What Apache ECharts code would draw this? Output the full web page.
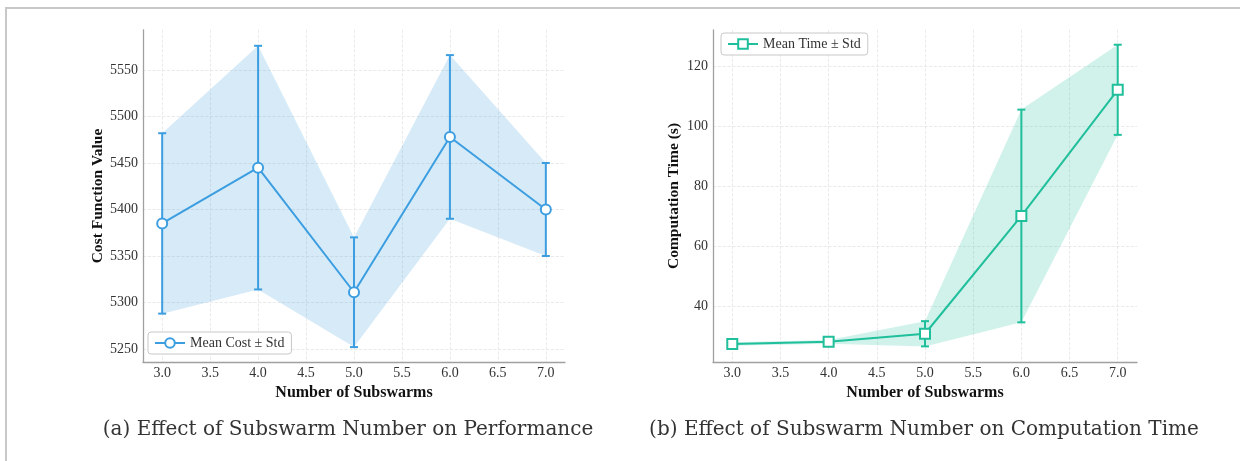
<!DOCTYPE html>
<html>
<head>
<meta charset="utf-8">
<script src="https://cdn.jsdelivr.net/npm/echarts@6/dist/echarts.min.js"></script>
<style>
html, body { margin: 0; padding: 0; background: #fff; }
#chart { width: 1240px; height: 461px; }
#frame { position: absolute; left: 5px; top: 7px; width: 1235px; height: 454px; border-top: 2px solid #c8c8c8; border-left: 2px solid #c8c8c8; pointer-events: none; }
</style>
</head>
<body>
<div id="chart"></div>
<div id="frame"></div>
<script>
// 子群数量 vs 代价 / 计算时间
const subswarms = [3, 4, 5, 6, 7]
const costMean = [5385, 5445, 5311, 5478, 5400]
const costStd = [97, 131, 59, 88, 50]
const timeMean = [27.5, 28.2, 30.9, 70.1, 112.1]
const timeStd = [0.6, 0.6, 4.2, 35.4, 15.0]

const serif = 'Liberation Serif'

function bandSeries(idx, mean, std, fill) {
  return {
    type: 'custom',
    xAxisIndex: idx,
    yAxisIndex: idx,
    silent: true,
    z: 1,
    data: subswarms.map(x => [x]),
    renderItem: function(params, api) {
      if (params.dataIndex !== 0) return null
      const up = subswarms.map((x, i) => api.coord([x, mean[i] + std[i]]))
      const lo = subswarms.map((x, i) => api.coord([x, mean[i] - std[i]])).reverse()
      return {
        type: 'polygon',
        shape: { points: up.concat(lo) },
        style: { fill: fill }
      }
    }
  }
}

function errSeries(idx, mean, std, color) {
  return {
    type: 'custom',
    xAxisIndex: idx,
    yAxisIndex: idx,
    silent: true,
    z: 3,
    data: subswarms.map((x, i) => [x, mean[i] - std[i], mean[i] + std[i]]),
    renderItem: function(params, api) {
      const lo = api.coord([api.value(0), api.value(1)])
      const hi = api.coord([api.value(0), api.value(2)])
      const cap = 4
      const st = { stroke: color, lineWidth: 2 }
      return {
        type: 'group',
        children: [
          { type: 'line', shape: { x1: lo[0], y1: lo[1], x2: hi[0], y2: hi[1] }, style: st },
          { type: 'line', shape: { x1: lo[0] - cap, y1: lo[1], x2: lo[0] + cap, y2: lo[1] }, style: st },
          { type: 'line', shape: { x1: hi[0] - cap, y1: hi[1], x2: hi[0] + cap, y2: hi[1] }, style: st }
        ]
      }
    }
  }
}

function meanSeries(idx, name, mean, color, symbol, size) {
  return {
    name: name,
    type: 'line',
    xAxisIndex: idx,
    yAxisIndex: idx,
    z: 5,
    data: subswarms.map((x, i) => [x, mean[i]]),
    symbol: symbol,
    symbolSize: size,
    showAllSymbol: true,
    lineStyle: { color: color, width: 2 },
    itemStyle: { color: color, borderColor: color, borderWidth: 1.5 }
  }
}

const gridLine = { show: true, showMinLine: false, showMaxLine: false, lineStyle: { color: '#e4e4e4', type: 'dashed', width: 0.8 } }

function xAxisOf(idx) {
  return {
    type: 'value',
    gridIndex: idx,
    min: 2.8,
    max: 7.2,
    splitNumber: 10,
    name: 'Number of Subswarms',
    nameLocation: 'middle',
    nameGap: 17,
    nameTextStyle: { fontFamily: serif, fontWeight: 'bold', fontSize: 16, color: '#111' },
    axisLine: { lineStyle: { color: '#a0a0a0', width: 1.3 } },
    axisTick: { show: false },
    axisLabel: {
      showMinLabel: false,
      showMaxLabel: false,
      margin: 4,
      fontFamily: serif,
      fontSize: 14,
      color: '#333',
      formatter: v => v.toFixed(1)
    },
    splitLine: gridLine
  }
}

function yAxisOf(idx, name, min, max, splitNumber, gap) {
  return {
    type: 'value',
    gridIndex: idx,
    min: min,
    max: max,
    splitNumber: splitNumber,
    name: name,
    nameLocation: 'middle',
    nameGap: gap,
    nameTextStyle: { fontFamily: serif, fontWeight: 'bold', fontSize: 15.5, color: '#111' },
    axisLine: { show: true, lineStyle: { color: '#a0a0a0', width: 1.3 } },
    axisTick: { show: false },
    axisLabel: {
      showMinLabel: false,
      showMaxLabel: false,
      margin: 5,
      fontFamily: serif,
      fontSize: 14,
      color: '#333',
      formatter: v => String(v)
    },
    splitLine: gridLine
  }
}

function legendOf(name, left, top) {
  return {
    data: [name],
    left: left,
    top: top,
    orient: 'horizontal',
    padding: [4, 7, 4, 6],
    itemWidth: 30,
    itemHeight: 12,
    itemGap: 8,
    borderColor: '#c8c8c8',
    borderWidth: 1,
    borderRadius: 3,
    backgroundColor: '#fff',
    textStyle: { fontFamily: serif, fontSize: 14, color: '#333' }
  }
}

const chart = echarts.init(document.getElementById('chart'))
chart.setOption({
  animation: false,
  title: [{
    text: '(a) Effect of Subswarm Number on Performance',
    left: 343,
    top: 415,
    textAlign: 'center',
    textStyle: { fontFamily: 'DejaVu Serif', fontWeight: 'normal', fontSize: 20, color: '#333' }
  }, {
    text: '(b) Effect of Subswarm Number on Computation Time',
    left: 919,
    top: 415,
    textAlign: 'center',
    textStyle: { fontFamily: 'DejaVu Serif', fontWeight: 'normal', fontSize: 20, color: '#333' }
  }],
  legend: [
    legendOf('Mean Cost ± Std', 148, 332),
    legendOf('Mean Time ± Std', 721, 33)
  ],
  grid: [
    { left: 143, right: 675, top: 30, bottom: 99 },
    { left: 713, right: 103, top: 30, bottom: 99 }
  ],
  xAxis: [xAxisOf(0), xAxisOf(1)],
  yAxis: [
    yAxisOf(0, 'Cost Function Value', 5236, 5593, 7, 35),
    yAxisOf(1, 'Computation Time (s)', 21.5, 132, 5, 31)
  ],
  series: [
    bandSeries(0, costMean, costStd, 'rgba(52, 152, 219, 0.2)'),
    errSeries(0, costMean, costStd, '#3c9ee0'),
    meanSeries(0, 'Mean Cost ± Std', costMean, '#3c9ee0', 'emptyCircle', 10),
    bandSeries(1, timeMean, timeStd, 'rgba(26, 188, 156, 0.2)'),
    errSeries(1, timeMean, timeStd, '#20bf9b'),
    meanSeries(1, 'Mean Time ± Std', timeMean, '#20bf9b', 'emptyRect', 10)
  ]
})
</script>
</body>
</html>
